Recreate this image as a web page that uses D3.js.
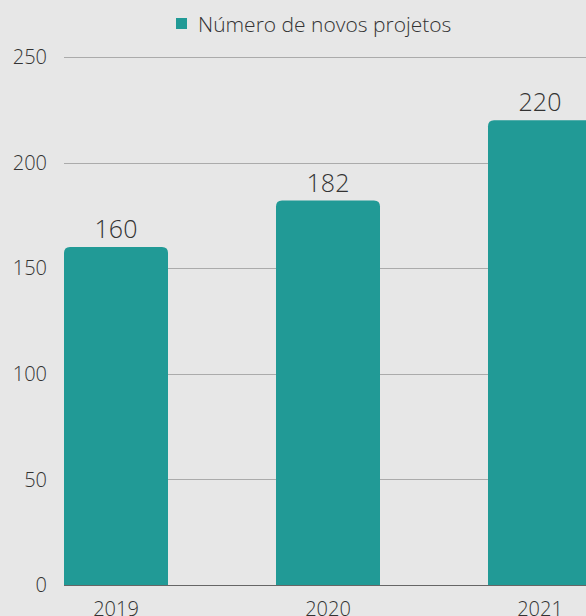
<!DOCTYPE html>
<html>
<head>
<meta charset="utf-8">
<style>
body { margin: 0; background: #e7e7e7; }
text { font-family: "Open Sans", sans-serif; fill: #333; }
</style>
</head>
<body>
<script src="https://cdn.jsdelivr.net/npm/d3@7"></script>
<script>
var years = ["2019", "2020", "2021"];
var projetos = [160, 182, 220];
var yTicks = [0, 50, 100, 150, 200, 250];
var legendLabel = "Número de novos projetos";

var width = 586, height = 616;
var plotLeft = 64, plotBase = 585, plotTop = 57;

var svg = d3.select("body").append("svg")
    .attr("width", width)
    .attr("height", height);

var x = d3.scaleBand()
    .domain(years)
    .range([plotLeft, plotLeft + 3 * 212 - 108])
    .paddingInner(108 / 212)
    .paddingOuter(0);

var y = d3.scaleLinear()
    .domain([0, 250])
    .range([plotBase, plotTop]);

// gridlines
svg.append("g")
    .selectAll("line")
    .data(yTicks.filter(function(d) { return d > 0; }))
    .enter().append("line")
    .attr("x1", plotLeft).attr("x2", width)
    .attr("y1", function(d) { return Math.round(y(d)) + 0.5; })
    .attr("y2", function(d) { return Math.round(y(d)) + 0.5; })
    .attr("stroke", "#ababab")
    .attr("stroke-width", 1);

// y labels
svg.append("g")
    .selectAll("text")
    .data(yTicks)
    .enter().append("text")
    .attr("x", 47)
    .attr("y", function(d) { return y(d); })
    .attr("dy", "0.36em")
    .attr("text-anchor", "end")
    .style("font-size", "20px")
    .style("font-weight", 300)
    .text(function(d) { return d; });

// bars with rounded tops
var r = 6;
svg.append("g")
    .selectAll("path")
    .data(years)
    .enter().append("path")
    .attr("fill", "#219a96")
    .attr("d", function(d, i) {
        var x0 = x(d), x1 = x(d) + x.bandwidth(), y0 = y(projetos[i]), y1 = y(0);
        return "M" + x0 + "," + y1 +
            "V" + (y0 + r) +
            "Q" + x0 + "," + y0 + " " + (x0 + r) + "," + y0 +
            "H" + (x1 - r) +
            "Q" + x1 + "," + y0 + " " + x1 + "," + (y0 + r) +
            "V" + y1 + "Z";
    });

// baseline
svg.append("line")
    .attr("x1", plotLeft).attr("x2", width)
    .attr("y1", plotBase + 0.5).attr("y2", plotBase + 0.5)
    .attr("stroke", "#666")
    .attr("stroke-width", 1);

// value labels
svg.append("g")
    .selectAll("text")
    .data(years)
    .enter().append("text")
    .attr("x", function(d) { return x(d) + x.bandwidth() / 2; })
    .attr("y", function(d, i) { return y(projetos[i]) - 9; })
    .attr("text-anchor", "middle")
    .style("font-size", "25px")
    .style("font-weight", 300)
    .text(function(d, i) { return projetos[i]; });

// x labels
svg.append("g")
    .selectAll("text")
    .data(years)
    .enter().append("text")
    .attr("x", function(d) { return x(d) + x.bandwidth() / 2; })
    .attr("y", 616)
    .attr("text-anchor", "middle")
    .style("font-size", "20px")
    .style("font-weight", 300)
    .text(function(d) { return d; });

// legend
var lg = svg.append("g");
lg.append("rect")
    .attr("x", 176).attr("y", 18)
    .attr("width", 11).attr("height", 11)
    .attr("fill", "#219a96");
lg.append("text")
    .attr("x", 198).attr("y", 24)
    .attr("dy", "0.36em")
    .style("font-size", "21px")
    .style("font-weight", 300)
    .text(legendLabel);
</script>
</body>
</html>
